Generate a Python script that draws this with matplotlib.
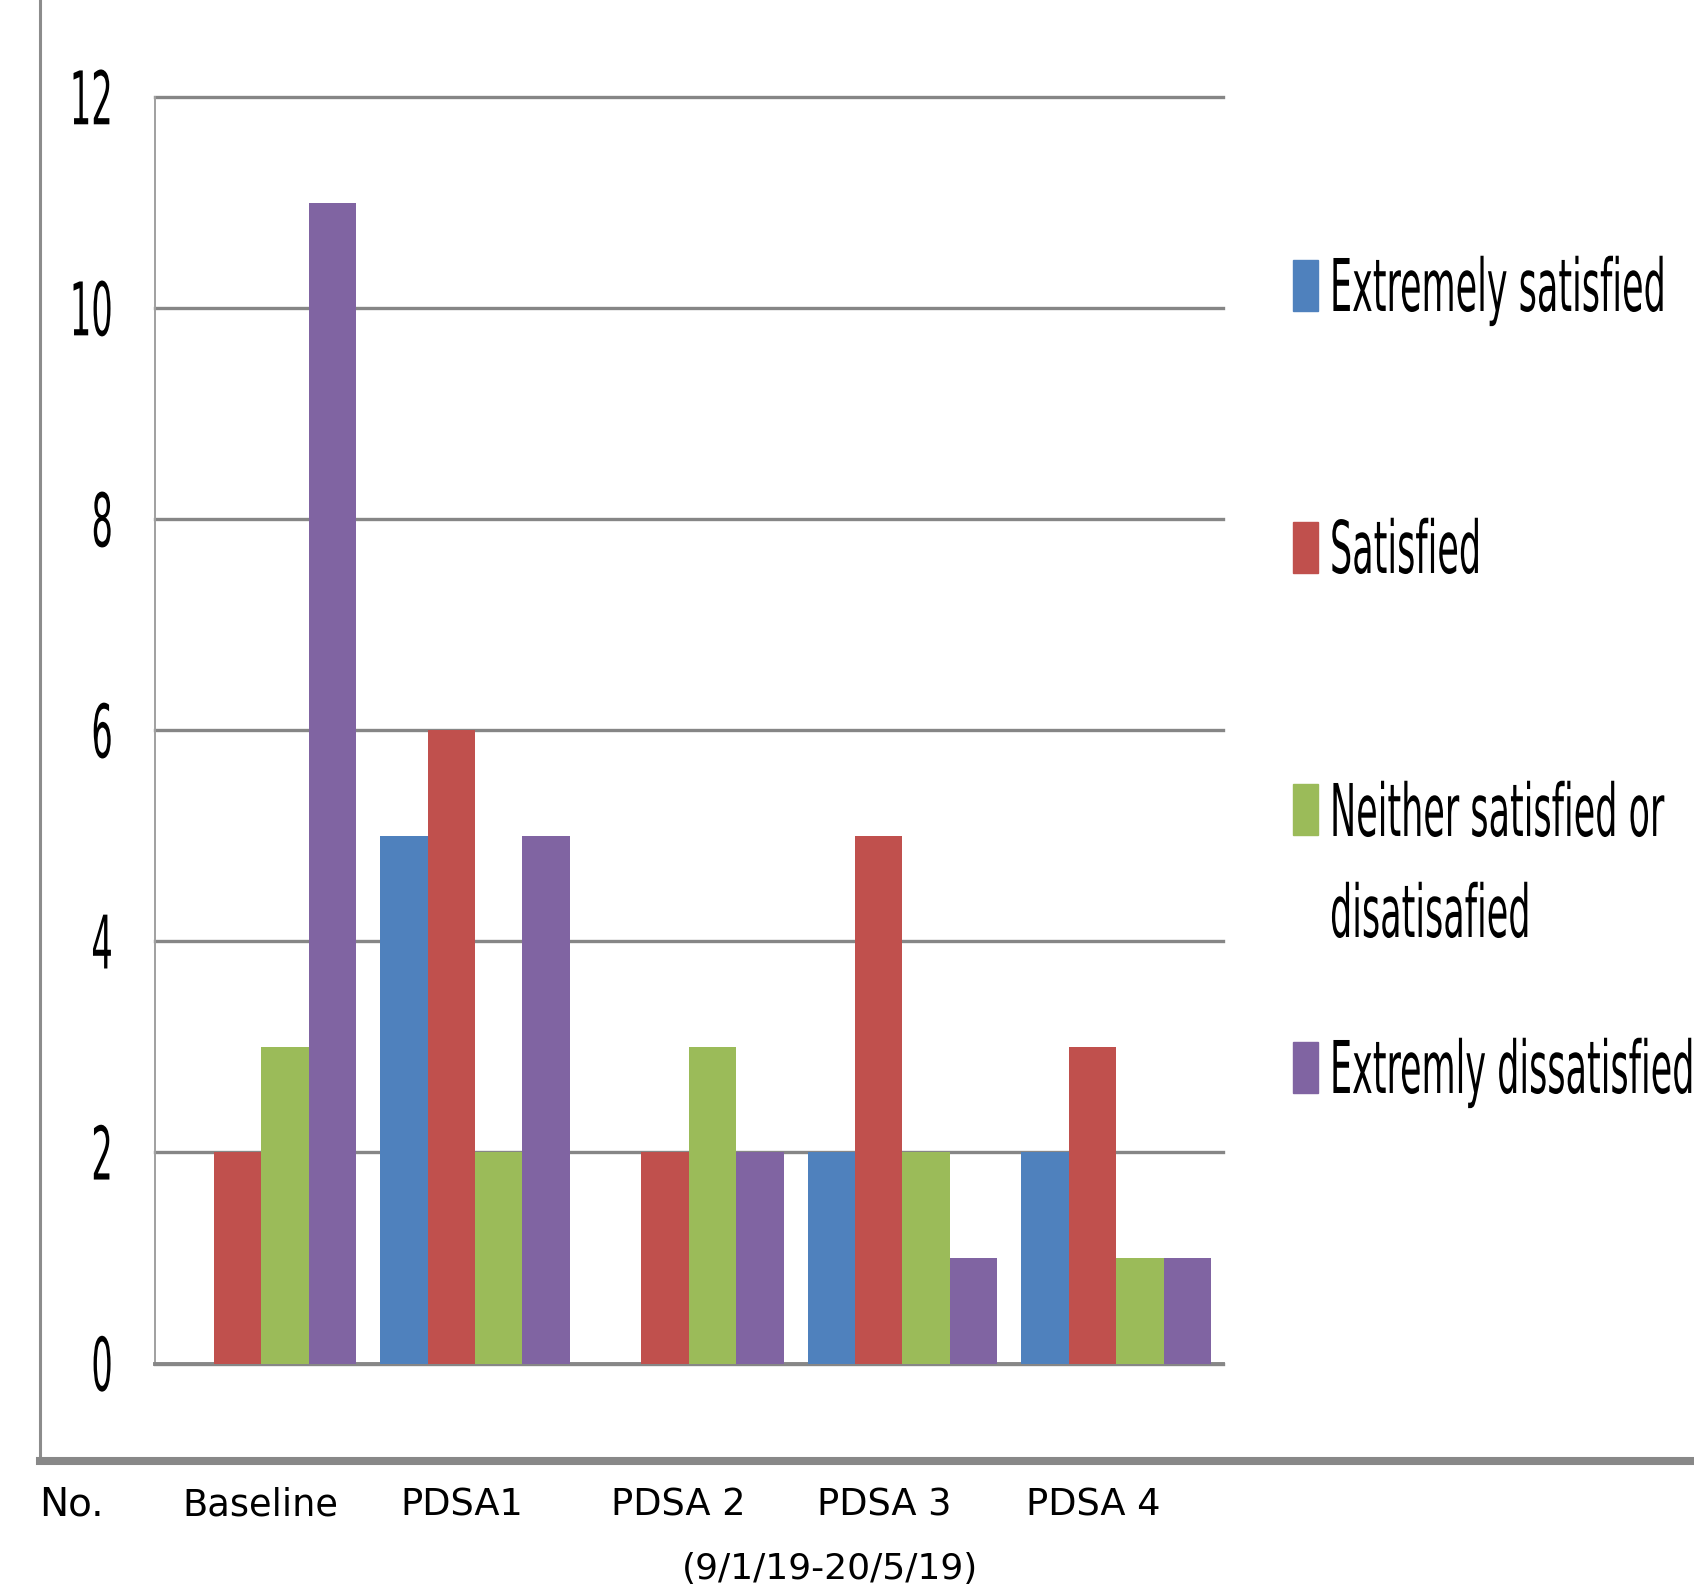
import matplotlib.pyplot as plt
import numpy as np
from matplotlib.patches import Rectangle
from matplotlib.patheffects import AbstractPathEffect
from matplotlib.transforms import Affine2D

categories = ['Baseline', 'PDSA1', 'PDSA 2', 'PDSA 3', 'PDSA 4']
series_names = ['Extremely satisfied', 'Satisfied',
                'Neither satisfied or\ndisatisafied', 'Extremly dissatisfied']
extremely_satisfied = [0, 5, 0, 2, 2]
satisfied = [2, 6, 2, 5, 3]
neither = [3, 2, 3, 2, 1]
extremely_dissatisfied = [11, 5, 2, 1, 1]
y_ticks = [0, 2, 4, 6, 8, 10, 12]
date_note = '(9/1/19-20/5/19)'

series = [extremely_satisfied, satisfied, neither, extremely_dissatisfied]
colors = ['#4F81BD', '#C0504D', '#9BBB59', '#8064A2']


class TallText(AbstractPathEffect):
    # the source picture has its tick and legend text squeezed sideways,
    # so stretch the glyphs upward (mid is in font units, 100 per em)
    def __init__(self, sy, mid=0):
        super().__init__()
        self.sy = sy
        self.mid = mid

    def draw_path(self, renderer, gc, tpath, affine, rgbFace=None):
        st = Affine2D().translate(0, -self.mid).scale(1, self.sy).translate(0, self.mid)
        renderer.draw_path(gc, tpath, st + affine, rgbFace)


W, H = 1694, 1594
fig = plt.figure(figsize=(W / 100, H / 100), dpi=100)

# outer chart frame, only the left and bottom edges show
frame = fig.add_axes([40 / W, 1 - 1461 / H, 1.0, 1461 / H + 0.01])
frame.set_xticks([])
frame.set_yticks([])
frame.spines['top'].set_visible(False)
frame.spines['right'].set_visible(False)
frame.spines['left'].set_color('#8c8c8c')
frame.spines['left'].set_linewidth(2.2)
frame.spines['bottom'].set_color('#888888')
frame.spines['bottom'].set_linewidth(5.8)
frame.patch.set_alpha(0)

ax = fig.add_axes([154.5 / W, 1 - 1363.5 / H, (1223 - 154.5) / W, (1363.5 - 97.2) / H])
x = np.arange(len(categories))
width = 0.222
for i, vals in enumerate(series):
    ax.bar(x + (i - 1.5) * width, vals, width, color=colors[i], linewidth=0, zorder=3)

ax.set_xlim(-0.5, len(categories) - 0.5)
ax.set_ylim(0, 12)
ax.set_yticks(y_ticks)
ax.set_xticks([])
ax.yaxis.grid(True, color='#868686', linewidth=2.4)
ax.set_axisbelow(True)
for gl in ax.yaxis.get_gridlines():
    gl.set_clip_on(False)
ax.spines['top'].set_visible(False)
ax.spines['right'].set_visible(False)
ax.spines['left'].set_color('#a0a0a0')
ax.spines['left'].set_linewidth(1.4)
ax.spines['bottom'].set_color('#878787')
ax.spines['bottom'].set_linewidth(2.8)
ax.tick_params(axis='y', length=0, pad=30, labelsize=27)
for lbl in ax.get_yticklabels():
    lbl.set_fontstretch('condensed')
    lbl.set_path_effects([TallText(1.97, mid=36)])

# category labels sit below the outer frame
label_x = [260, 462, 678, 884, 1093]
fig.text(71 / W, 1 - 1505 / H, 'No.', ha='center', va='center', fontsize=28)
for cx, name in zip(label_x, categories):
    fig.text(cx / W, 1 - 1505 / H, name, ha='center', va='center', fontsize=26.5)
fig.text(830 / W, 1 - 1569 / H, date_note, ha='center', va='center', fontsize=26)

# legend on the right (va='baseline' lines up the last line of a label)
marker_base = [311, 573, 835, 1093]
text_base = [311, 573, 937, 1093]
for i, name in enumerate(series_names):
    fig.add_artist(Rectangle((1293 / W, 1 - marker_base[i] / H), 25 / W, 51 / H,
                             transform=fig.transFigure, color=colors[i]))
    fig.text(1330 / W, 1 - text_base[i] / H, name, ha='left', va='baseline',
             fontsize=28, fontstretch='condensed', linespacing=3.1,
             path_effects=[TallText(1.87)])

fig.savefig('out.png', dpi=100)
